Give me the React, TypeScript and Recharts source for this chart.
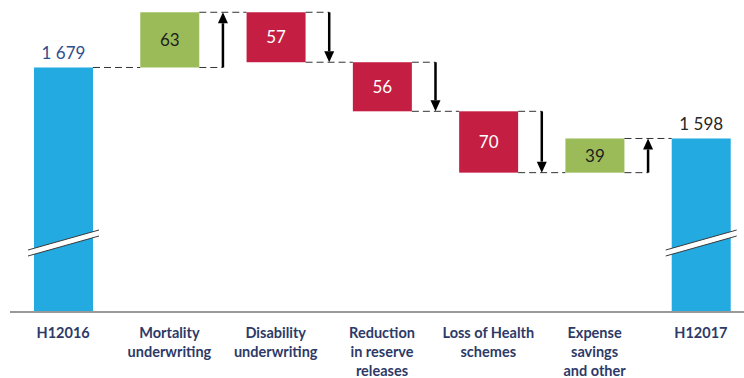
import { BarChart, Bar, XAxis, YAxis } from 'recharts'

// categories, '\n' splits the axis label lines
const CATEGORIES = [
  'H12016',
  'Mortality\nunderwriting',
  'Disability\nunderwriting',
  'Reduction\nin reserve\nreleases',
  'Loss of Health\nschemes',
  'Expense\nsavings\nand other',
  'H12017',
]
const START_VALUE = 1679
const DELTAS = [63, -57, -56, -70, 39]
const END_VALUE = 1598

// broken axis: the totals start from here
const AXIS_BASE = 1400
const AXIS_TOP = 1756

const BLUE = '#22aae1'
const GREEN = '#9bbb59'
const RED = '#c41f43'
const NAVY = '#2d3a68'
const FONT = 'Lato, Carlito, "Open Sans", sans-serif'

const CHART_W = 754
const CHART_H = 378
const LEFT = 10
const BAR_W = 59

type Row = { name: string; kind: 'total' | 'up' | 'down'; value: number; range: [number, number] }

function buildRows(): Row[] {
  const rows: Row[] = [{ name: CATEGORIES[0], kind: 'total', value: START_VALUE, range: [AXIS_BASE, START_VALUE] }]
  let level = START_VALUE
  DELTAS.forEach((d, i) => {
    const from = level
    level += d
    rows.push({
      name: CATEGORIES[i + 1],
      kind: d > 0 ? 'up' : 'down',
      value: Math.abs(d),
      range: [Math.min(from, level), Math.max(from, level)],
    })
  })
  rows.push({ name: CATEGORIES[CATEGORIES.length - 1], kind: 'total', value: END_VALUE, range: [AXIS_BASE, END_VALUE] })
  return rows
}

const rows = buildRows()
const BAND = (CHART_W - LEFT) / rows.length

function fmt(v: number) {
  return String(v).replace(/\B(?=(\d{3})+(?!\d))/g, ' ')
}

function WaterfallBar(props: any) {
  const { x, y, width, height, payload, index } = props
  const top = Math.min(y, y + height)
  const bottom = Math.max(y, y + height)
  const right = x + width
  const cx = x + width / 2
  const gap = BAND - width
  const isLast = index === rows.length - 1
  const kind = payload.kind
  const newY = kind === 'down' ? bottom : top
  const oldY = kind === 'up' ? bottom : top
  const fill = kind === 'total' ? BLUE : kind === 'up' ? GREEN : RED
  const arrowX = right + gap / 2
  const dir = newY < oldY ? -1 : 1
  const head = 11

  // break marks on the total bars
  const by = bottom - 69
  const bx0 = x - 6
  const bx1 = right + 6
  const rise = 20

  return (
    <g>
      <rect x={x} y={top} width={width} height={bottom - top} fill={fill} />
      {kind === 'total' ? (
        <g>
          <polygon
            points={`${bx0},${by + rise / 2 - 3} ${bx1},${by - rise / 2 - 3} ${bx1},${by - rise / 2 + 3} ${bx0},${by + rise / 2 + 3}`}
            fill="#fff"
          />
          <line x1={bx0} y1={by + rise / 2 - 3} x2={bx1} y2={by - rise / 2 - 3} stroke="#3a3a3a" strokeWidth={1} />
          <line x1={bx0} y1={by + rise / 2 + 3} x2={bx1} y2={by - rise / 2 + 3} stroke="#3a3a3a" strokeWidth={1} />
          <text
            x={cx}
            y={top - 8}
            textAnchor="middle"
            fontFamily={FONT}
            fontSize={17}
            fill={index === 0 ? '#2f4e8c' : '#262626'}
          >
            {fmt(payload.value)}
          </text>
        </g>
      ) : (
        <text
          x={cx}
          y={(top + bottom) / 2 + 6}
          textAnchor="middle"
          fontFamily={FONT}
          fontSize={17}
          fill={kind === 'up' ? '#1e1e1e' : '#ffffff'}
        >
          {payload.value}
        </text>
      )}
      {!isLast && (
        <line x1={right} y1={newY} x2={right + gap} y2={newY} stroke="#333" strokeWidth={1} strokeDasharray="7 4" />
      )}
      {kind !== 'total' && (
        <g>
          <line x1={right} y1={oldY} x2={arrowX} y2={oldY} stroke="#333" strokeWidth={1} strokeDasharray="7 4" />
          <line x1={arrowX} y1={oldY} x2={arrowX} y2={newY - dir * head} stroke="#000" strokeWidth={2.5} />
          <polygon
            points={`${arrowX},${newY} ${arrowX - 5},${newY - dir * head} ${arrowX + 5},${newY - dir * head}`}
            fill="#000"
          />
        </g>
      )}
    </g>
  )
}

function CategoryTick({ x, y, payload }: any) {
  const lines = String(payload.value).split('\n')
  return (
    <text x={x} y={y + 26} textAnchor="middle" fontFamily={FONT} fontSize={14.5} fontWeight={700} fill={NAVY}>
      {lines.map((l, i) => (
        <tspan key={i} x={x} dy={i === 0 ? 0 : 19}>
          {l}
        </tspan>
      ))}
    </text>
  )
}

export default function App() {
  return (
    <div style={{ position: 'absolute', left: 0, top: 0, width: 744, height: CHART_H, overflow: 'hidden', background: '#fff' }}>
      <BarChart width={CHART_W} height={CHART_H} data={rows} margin={{ top: 0, right: 0, bottom: 0, left: LEFT }}>
        <XAxis
          dataKey="name"
          interval={0}
          height={66}
          tickSize={0}
          tickMargin={0}
          tickLine={false}
          axisLine={{ stroke: '#999', strokeWidth: 2 }}
          tick={<CategoryTick />}
        />
        <YAxis hide type="number" domain={[AXIS_BASE, AXIS_TOP]} allowDataOverflow />
        <Bar dataKey="range" barSize={BAR_W} shape={<WaterfallBar />} isAnimationActive={false} />
      </BarChart>
    </div>
  )
}
